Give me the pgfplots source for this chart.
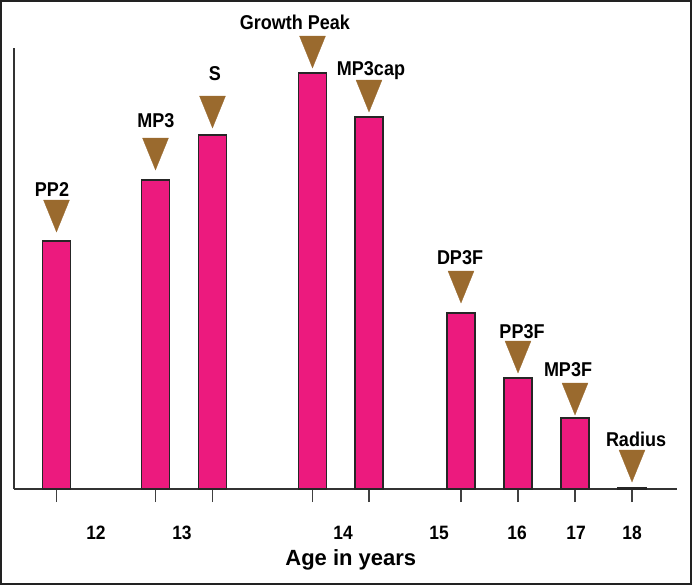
\documentclass[border=0pt]{standalone}
\usepackage{pgfplots}
\pgfplotsset{compat=1.18}
\usepackage{pgfplotstable}
\usepackage{fontspec}
\setmainfont{Liberation Sans}
\newfontfamily\condfont[FakeStretch=0.9]{Liberation Sans}
\definecolor{barmag}{HTML}{EC1A7E}
\definecolor{trib}{HTML}{9A6A2E}
\definecolor{framec}{HTML}{222222}
\pgfplotstableread[col sep=comma]{
x,bar,apex,lx,ly,label
56.5,248,257,52,299,PP2
155.5,309,319,156,368,MP3
212.5,354,361,215,415,S
312.5,416,421,295,467,Growth Peak
369,372,377,371,418,MP3cap
461,176,186,460,231,DP3F
518,111,116,522,157,PP3F
575,71,74,568,119,MP3F
632,1,7,636,50,Radius
}\datatable
\begin{document}
\begin{tikzpicture}
\begin{axis}[
  scale only axis, width=497.25pt, height=330.75pt,
  xmin=14, xmax=677, ymin=0, ymax=441,
  axis x line=bottom, axis y line=left,
  axis line style={-, line width=1pt, draw=black!80},
  ytick=\empty,
  xtick={56.5,155.5,212.5,312.5,369,461,518,575,632},
  xticklabels={,,,,,,,,},
  tick align=outside, major tick length=9.75pt,
  x tick style={line width=0.8pt, black!75},
  extra x ticks={96,182,343,439,517,576,632},
  extra x tick labels={12,13,14,15,16,17,18},
  extra x tick style={major tick length=0pt, xticklabel style={anchor=center, yshift=-33pt}},
  ticklabel style={font=\condfont\fontsize{14.5}{16}\selectfont\bfseries},
  xlabel={Age in years},
  xlabel style={at={(axis description cs:0.508,-0.161)}, anchor=center, font=\fontsize{16.5}{19}\selectfont\bfseries},
  clip=false,
]
\addplot[ybar, bar width=21pt, fill=barmag, draw=black!85, line width=1pt] table[x=x, y=bar]{\datatable};
\addplot[only marks, mark=triangle*, mark size=11.25pt, mark options={fill=trib, draw=trib, line width=0.2pt, rotate=180, yscale=1.42}] table[x=x, y expr=\thisrow{apex}+21.3]{\datatable};
\addplot[draw=none, mark=none, nodes near coords, point meta=explicit symbolic, nodes near coords align=center, every node near coord/.append style={font=\condfont\fontsize{15}{17}\selectfont\bfseries, inner sep=0pt, text=black}] table[x=lx, y=ly, meta=label]{\datatable};
\draw[line width=1.5pt, framec] (axis cs:1,-95) rectangle (axis cs:691,488);
\end{axis}
\end{tikzpicture}
\end{document}
